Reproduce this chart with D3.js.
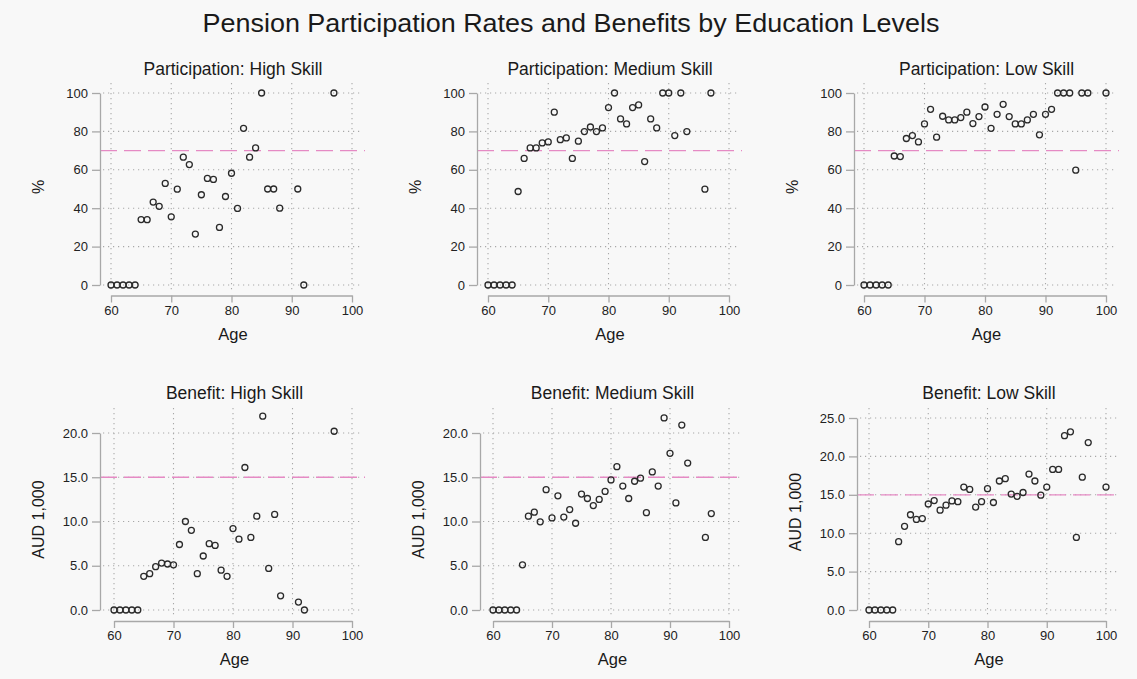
<!DOCTYPE html>
<html>
<head>
<meta charset="utf-8">
<script src="https://cdn.jsdelivr.net/npm/d3@7"></script>
<style>
  body { margin: 0; background: #f8f8f8; }
  svg { display: block; font-family: "Liberation Sans", Arial, sans-serif; }
</style>
</head>
<body>
<svg id="chart" width="1137" height="679"></svg>
<script>
// Ages observed per education group
const agesHigh = [60, 61, 62, 63, 64, 65, 66, 67, 68, 69, 70, 71, 72, 73, 74, 75, 76, 77, 78, 79, 80,
  81, 82, 83, 84, 85, 86, 87, 88, 91, 92, 97];
const agesMedium = [60, 61, 62, 63, 64, 65, 66, 67, 68, 69, 70, 71, 72, 73, 74, 75, 76, 77, 78, 79, 80,
  81, 82, 83, 84, 85, 86, 87, 88, 89, 90, 91, 92, 93, 96, 97];
const agesLow = [60, 61, 62, 63, 64, 65, 66, 67, 68, 69, 70, 71, 72, 73, 74, 75, 76, 77, 78, 79, 80,
  81, 82, 83, 84, 85, 86, 87, 88, 89, 90, 91, 92, 93, 94, 95, 96, 97, 100];

// Participation rates (%)
const partHigh = [0, 0, 0, 0, 0, 34.1, 34, 43.2, 41, 52.9, 35.5, 49.9, 66.6, 62.7, 26.5, 47, 55.5, 55,
  30, 46.1, 58.2, 39.9, 81.6, 66.6, 71.4, 100, 50, 50, 40, 50, 0, 100];
const partMedium = [0, 0, 0, 0, 0, 48.7, 65.9, 71.4, 71.4, 74, 74.5, 90, 75.7, 76.6, 65.9, 74.9, 79.9,
  82.3, 79.9, 81.8, 92.4, 100, 86.5, 83.9, 92.4, 93.8, 64.3, 86.5, 81.8, 100, 100, 77.8, 100, 79.9,
  49.9, 100];
const partLow = [0, 0, 0, 0, 0, 67.2, 66.9, 76.3, 77.8, 74.5, 83.9, 91.5, 77, 87.9, 86, 86, 87.2, 90,
  84.1, 87.7, 92.7, 81.6, 88.9, 94.1, 87.7, 83.9, 83.9, 86, 88.9, 78.2, 88.9, 91.5, 100, 100, 100,
  59.8, 100, 100, 100];

// Benefits (AUD 1,000)
const benHigh = [0, 0, 0, 0, 0, 3.8, 4.1, 4.9, 5.3, 5.2, 5.1, 7.4, 10.0, 9.0, 4.1, 6.1, 7.5, 7.3, 4.5,
  3.8, 9.2, 8.0, 16.1, 8.2, 10.6, 21.9, 4.7, 10.8, 1.6, 0.9, 0, 20.2];
const benMedium = [0, 0, 0, 0, 0, 5.1, 10.6, 11.05, 9.96, 13.6, 10.4, 12.9, 10.5, 11.35, 9.8, 13.1,
  12.6, 11.8, 12.5, 13.4, 14.7, 16.2, 14.0, 12.6, 14.55, 14.9, 11.0, 15.6, 14.0, 21.7, 17.7, 12.1,
  20.9, 16.6, 8.2, 10.9];
const benLow = [0, 0, 0, 0, 0, 8.9, 10.9, 12.4, 11.8, 11.9, 13.8, 14.25, 13.0, 13.65, 14.2, 14.1, 16.0,
  15.7, 13.4, 14.1, 15.8, 14.0, 16.8, 17.1, 15.1, 14.8, 15.3, 17.7, 16.8, 14.95, 16.0, 18.3, 18.3,
  22.7, 23.2, 9.45, 17.3, 21.8, 16.0];

// Ticks and reference lines
const ageTicks = [60, 70, 80, 90, 100];
const pctTicks = [0, 20, 40, 60, 80, 100];
const benTicks = [0, 5, 10, 15, 20];
const benLowTicks = [0, 5, 10, 15, 20, 25];
const pctRef = 70;
const benRef = 15;

const mainTitle = "Pension Participation Rates and Benefits by Education Levels";

// Layout of the two rows
const rows = {
  top:    { gridTop: 83,  y0: 285, axisY: 295.5, titleY: 75 },
  bottom: { gridTop: 408, y0: 610, axisY: 621,   titleY: 399 }
};

const panels = [
  { title: "Participation: High Skill",   ages: agesHigh,   vals: partHigh,   ticks: pctTicks, ref: pctRef, fmt: d3.format("d"),  ylabel: "%",         row: rows.top,    axisX: 100, xr: [111, 352], yTop: 93 },
  { title: "Participation: Medium Skill", ages: agesMedium, vals: partMedium, ticks: pctTicks, ref: pctRef, fmt: d3.format("d"),  ylabel: "%",         row: rows.top,    axisX: 477, xr: [488, 729], yTop: 93 },
  { title: "Participation: Low Skill",    ages: agesLow,    vals: partLow,    ticks: pctTicks, ref: pctRef, fmt: d3.format("d"),  ylabel: "%",         row: rows.top,    axisX: 854, xr: [864, 1106], yTop: 93 },
  { title: "Benefit: High Skill",         ages: agesHigh,   vals: benHigh,    ticks: benTicks, ref: benRef, fmt: d3.format(".1f"), ylabel: "AUD 1,000", row: rows.bottom, axisX: 100, xr: [114, 352], yTop: 433 },
  { title: "Benefit: Medium Skill",       ages: agesMedium, vals: benMedium,  ticks: benTicks, ref: benRef, fmt: d3.format(".1f"), ylabel: "AUD 1,000", row: rows.bottom, axisX: 480, xr: [493, 729], yTop: 433 },
  { title: "Benefit: Low Skill",          ages: agesLow,    vals: benLow,     ticks: benLowTicks, ref: benRef, fmt: d3.format(".1f"), ylabel: "AUD 1,000", row: rows.bottom, axisX: 857, xr: [869, 1106], yTop: 418 }
];

const svg = d3.select("#chart");

svg.append("rect")
  .attr("width", 1137).attr("height", 679)
  .attr("fill", "#f8f8f8");

svg.append("text")
  .attr("x", 571).attr("y", 32)
  .attr("text-anchor", "middle")
  .attr("font-size", 25)
  .attr("textLength", 737)
  .attr("lengthAdjust", "spacingAndGlyphs")
  .attr("fill", "#1a1a1a")
  .text(mainTitle);

let drawPanel = function(p) {
  let g = svg.append("g");
  let row = p.row;
  let x = d3.scaleLinear().domain([60, 100]).range(p.xr);
  let y = d3.scaleLinear().domain([0, d3.max(p.ticks)]).range([row.y0, p.yTop]);
  let right = p.xr[1] + 11;

  // dotted grid
  g.selectAll(".hgrid")
    .data(p.ticks).enter()
    .append("line")
    .attr("x1", p.axisX + 3).attr("x2", right)
    .attr("y1", (d) => y(d)).attr("y2", (d) => y(d))
    .attr("stroke", "#a8a8a8")
    .attr("stroke-width", 1.1)
    .attr("stroke-dasharray", "1.2,3.8");

  g.selectAll(".vgrid")
    .data(ageTicks).enter()
    .append("line")
    .attr("x1", (d) => x(d)).attr("x2", (d) => x(d))
    .attr("y1", row.gridTop).attr("y2", row.axisY - 3)
    .attr("stroke", "#a8a8a8")
    .attr("stroke-width", 1.1)
    .attr("stroke-dasharray", "1.2,3.8");

  // reference line
  g.append("line")
    .attr("x1", p.axisX).attr("x2", right + 2)
    .attr("y1", y(p.ref)).attr("y2", y(p.ref))
    .attr("stroke", "#e58ac4")
    .attr("stroke-width", 1.3)
    .attr("stroke-dasharray", "17,7");

  // axes
  let yAxis = g.append("g")
    .attr("transform", `translate(${p.axisX},0)`)
    .call(d3.axisLeft(y).tickValues(p.ticks).tickFormat(p.fmt).tickSize(8).tickSizeOuter(0).tickPadding(4));

  let xAxis = g.append("g")
    .attr("transform", `translate(0,${row.axisY})`)
    .call(d3.axisBottom(x).tickValues(ageTicks).tickSize(7).tickSizeOuter(0).tickPadding(3));

  [yAxis, xAxis].forEach(function(a) {
    a.select(".domain").attr("stroke", "#a8a8a8").attr("stroke-width", 1.3);
    a.selectAll(".tick line").attr("stroke", "#a8a8a8").attr("stroke-width", 1.3);
    a.selectAll(".tick text")
      .attr("font-size", 13)
      .attr("fill", "#222")
      .attr("font-family", "'Liberation Sans', Arial, sans-serif");
  });

  // points
  g.selectAll(".pt")
    .data(p.ages.map((a, i) => [a, p.vals[i]])).enter()
    .append("circle")
    .attr("cx", (d) => x(d[0]))
    .attr("cy", (d) => y(d[1]))
    .attr("r", 3)
    .attr("fill", "none")
    .attr("stroke", "#2a2a2a")
    .attr("stroke-width", 1.3);

  // labels
  let cx = (p.xr[0] + p.xr[1]) / 2 + 1.5;

  g.append("text")
    .attr("x", cx).attr("y", row.titleY)
    .attr("text-anchor", "middle")
    .attr("font-size", 17.5)
    .attr("fill", "#1a1a1a")
    .text(p.title);

  g.append("text")
    .attr("x", cx).attr("y", row.axisY + 44)
    .attr("text-anchor", "middle")
    .attr("font-size", 16.5)
    .attr("fill", "#1a1a1a")
    .text("Age");

  let ly = (row.y0 + p.yTop) / 2 - 2;
  g.append("text")
    .attr("transform", `translate(${p.axisX - 56},${ly}) rotate(-90)`)
    .attr("text-anchor", "middle")
    .attr("font-size", 16)
    .attr("fill", "#1a1a1a")
    .text(p.ylabel);
};

panels.forEach(drawPanel);
</script>
</body>
</html>
